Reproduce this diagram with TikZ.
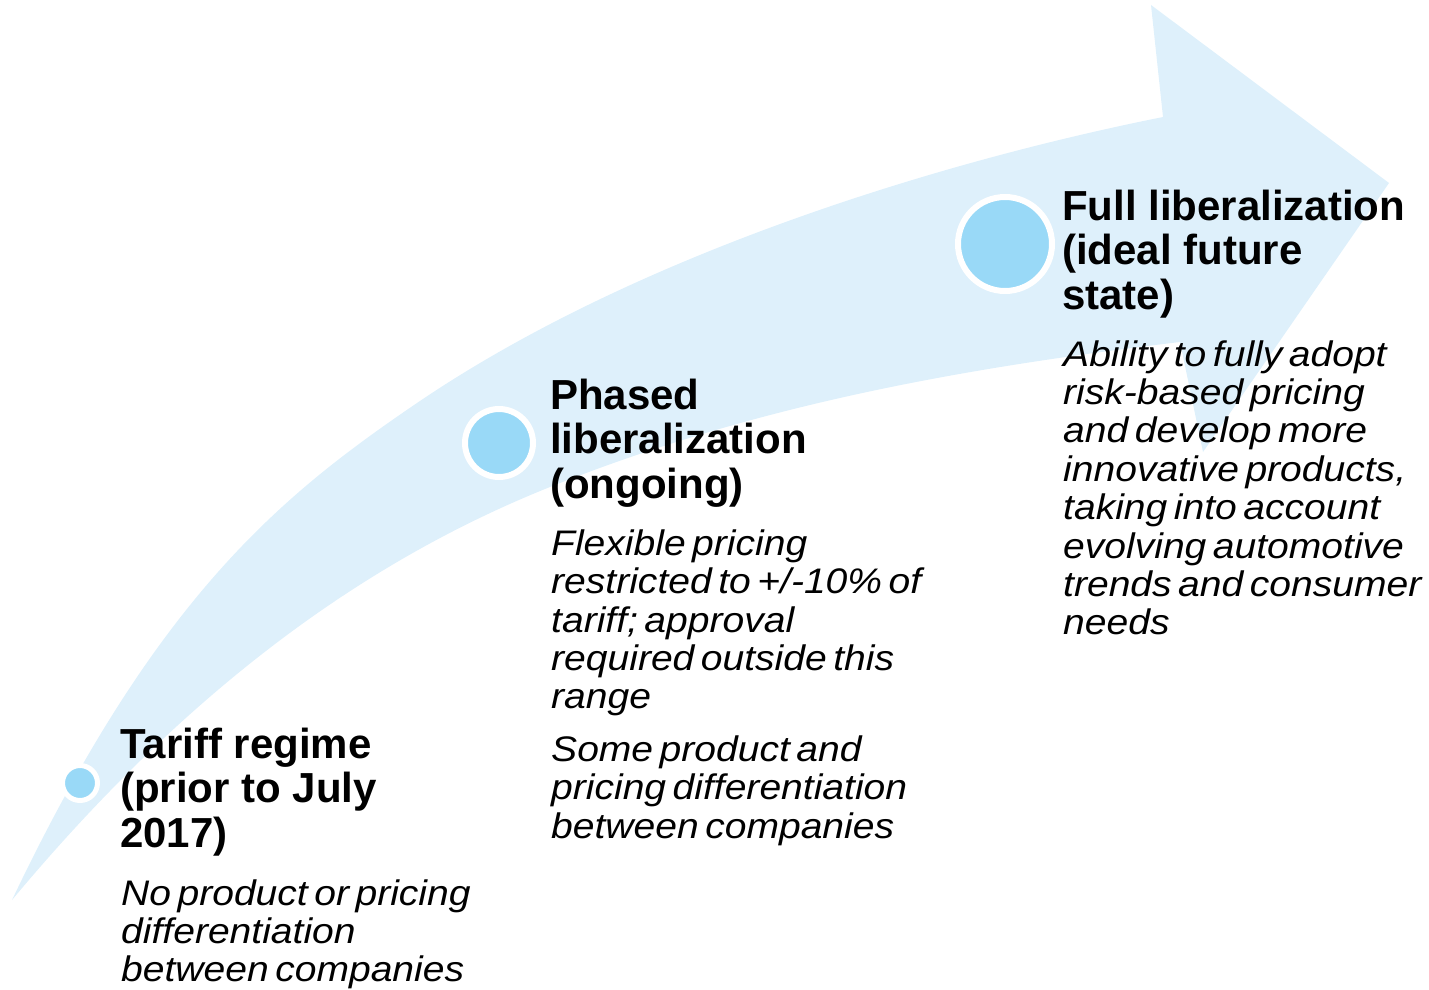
\documentclass[tikz,border=0pt]{standalone}
\usepackage{fontspec}
\setmainfont{Liberation Sans}
\newfontfamily\descfont{Liberation Sans}[FakeStretch=1.1,WordSpace=0.6]
\definecolor{arrowblue}{RGB}{222,240,251}
\definecolor{dotblue}{RGB}{153,217,247}
\begin{document}
\begin{tikzpicture}[x=1pt,y=-1pt,
  dot/.style={circle,fill=dotblue,draw=white,inner sep=0pt},
  title/.style={anchor=base west,inner sep=0pt,align=left,font=\fontsize{42}{44.7}\selectfont\bfseries},
  desc/.style={anchor=base west,inner sep=0pt,align=left,font=\descfont\fontsize{35.5}{38.4}\selectfont\itshape}]
\useasboundingbox (0,0) rectangle (1429,990);
% big curved arrow
\fill[arrowblue] (12,900) .. controls (157,595.5) and (282,494.8) .. (417,403)
  .. controls (637,253.4) and (943,161) .. (1163,117)
  -- (1151,5) -- (1389,183) -- (1203,452) -- (1180,342)
  .. controls (970,367.2) and (760,403) .. (550,487)
  .. controls (370,559) and (192,684) .. (12,900) -- cycle;
% milestones
\node[dot,minimum size=35pt,line width=5pt] (d1) at (80,783) {};
\node[dot,minimum size=68pt,line width=6pt] (d2) at (499,443) {};
\node[dot,minimum size=94pt,line width=6pt] (d3) at (1005,244) {};
% texts (anchored at the baseline of their last line)
\node[title] (t1) at (120,847.4) {Tariff regime\\(prior to July\\2017)};
\node[desc] (x1) at (121,981.8) {No product or pricing\\differentiation\\between companies};
\node[title] (t2) at (550,498.4) {Phased\\liberalization\\(ongoing)};
\node[desc] (x2) at (551,838) {Flexible pricing\\restricted to +/-10\% of\\tariff; approval\\required outside this\\range\\[14pt]Some product and\\pricing differentiation\\between companies};
\node[title] (t3) at (1062,309.4) {Full liberalization\\(ideal future\\state)};
\node[desc] (x3) at (1063,634.8) {Ability to fully adopt\\risk-based pricing\\and develop more\\innovative products,\\taking into account\\evolving automotive\\trends and consumer\\needs};
\end{tikzpicture}
\end{document}
